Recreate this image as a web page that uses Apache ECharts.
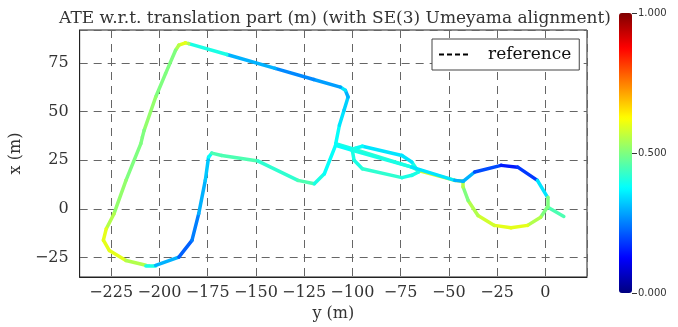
<!DOCTYPE html>
<html>
<head>
<meta charset="utf-8">
<script src="https://cdn.jsdelivr.net/npm/echarts@6/dist/echarts.min.js"></script>
<style>
html, body { margin: 0; padding: 0; background: #fff; }
#main { width: 678px; height: 327px; }
</style>
</head>
<body>
<div id="main"></div>
<script>
// trajectory: y (m), x (m), error (0..1)
var trajY = [9.6, 1.1, -2.4, -9.2, -17.8, -26.4, -34.9, -40.0, -42.6, -42.6,
    -46.9, -65.7, -69.2, -100.0, -108.6,
    -106.7, -104.3, -102.2, -103.6, -106.2, -120.0, -140.0, -165.0,
    -184.8, -186.5, -189.9, -191.6,
    -196.8, -201.9, -207.9, -208.8, -209.6, -217.3, -223.5, -227.5, -229.0, -225.9,
    -217.3, -207.0, -201.9, -189.9, -183.1, -179.6, -176.2, -174.5, -172.8,
    -167.7, -148.8, -128.2, -119.7, -114.5, -108.7,
    -100.0, -99.1, -94.8, -74.3, -69.2, -65.7,
    -69.2, -74.3, -94.8, -98.4, -100.0,
    -69.2, -46.9, -42.6, -36.6, -22.9, -14.3, -4.1, 1.1, 1.1];
var trajX = [-3.8, 1.0, -4.2, -8.4, -9.6, -8.4, -3.3, 4.4, 11.3, 14.2,
    14.7, 19.8, 21.5, 31.0, 33.6,
    43.0, 50.7, 57.5, 60.9, 62.6, 66.5, 72.2, 79.3,
    84.9, 85.3, 84.1, 81.5,
    69.5, 57.5, 40.4, 36.9, 33.6, 14.7, -2.4, -10.1, -16.0, -21.3,
    -26.4, -28.9, -28.9, -24.7, -16.1, -2.4, 14.7, 26.7, 28.7,
    27.5, 24.6, 14.7, 13.0, 18.1, 32.7,
    30.1, 25.0, 20.7, 16.1, 17.3, 19.0,
    24.1, 27.5, 32.2, 31.2, 30.1,
    21.5, 14.7, 14.2, 19.0, 22.4, 21.5, 14.7, 6.1, 1.0];
var trajErr = [0.45, 0.5, 0.55, 0.6, 0.6, 0.58, 0.55, 0.5, 0.55, 0.6,
    0.58, 0.45, 0.42, 0.4, 0.38,
    0.35, 0.33, 0.3, 0.35, 0.28, 0.26, 0.3, 0.4,
    0.55, 0.6, 0.55, 0.5,
    0.5, 0.52, 0.5, 0.5, 0.5, 0.52, 0.55, 0.6, 0.6, 0.6,
    0.55, 0.4, 0.3, 0.22, 0.25, 0.3, 0.32, 0.38, 0.45,
    0.45, 0.42, 0.45, 0.4, 0.38, 0.38,
    0.4, 0.4, 0.42, 0.4, 0.4, 0.4,
    0.35, 0.35, 0.38, 0.4, 0.4,
    0.35, 0.3, 0.3, 0.2, 0.15, 0.18, 0.35, 0.5, 0.5];
var barTicks = [0, 0.5, 1];

var jet = ['#00007f', '#0000ff', '#007fff', '#00ffff', '#7fff7f', '#ffff00', '#ff7f00', '#ff0000', '#7f0000'];
var serif = 'DejaVu Serif';
var minus = function (v) {
    v = Number(v);
    return v < 0 ? '\u2212' + Math.abs(v) : String(v);
};

// reference path and coloured segments, one per pair of neighbouring points
var refPts = [];
var segs = [];
for (var i = 0; i < trajY.length; i++) {
    refPts.push([trajY[i], trajX[i]]);
    if (i + 1 < trajY.length) {
        segs.push({
            coords: [[trajY[i], trajX[i]], [trajY[i + 1], trajX[i + 1]]],
            value: trajErr[i]
        });
    }
}

var myChart = echarts.init(document.getElementById('main'));
var option = {
    backgroundColor: '#fff',
    animation: false,
    title: {
        text: 'ATE w.r.t. translation part (m) (with SE(3) Umeyama alignment)',
        left: 330,
        textAlign: 'center',
        top: 5,
        textStyle: { fontFamily: serif, fontSize: 17, fontWeight: 'normal', color: '#333' }
    },
    legend: {
        data: ['reference'],
        left: 432,
        top: 39,
        padding: [7, 8, 7, 6],
        itemWidth: 32,
        itemHeight: 16,
        backgroundColor: '#fff',
        borderColor: '#444',
        borderWidth: 1,
        borderRadius: 0,
        itemStyle: { opacity: 0 },
        textStyle: { fontFamily: serif, fontSize: 17, color: '#111', padding: [0, 0, 0, 12] }
    },
    grid: [
        { left: 75, right: 91, top: 30, bottom: 50, show: true, borderColor: '#222', borderWidth: 1 },
        { left: 632, top: 13, width: 1, height: 280 }
    ],
    xAxis: [{
        type: 'value',
        min: -241.3,
        max: 21.6,
        minInterval: 25,
        maxInterval: 25,
        name: 'y (m)',
        nameLocation: 'middle',
        nameGap: 27,
        nameTextStyle: { fontFamily: serif, fontSize: 16, color: '#333' },
        axisLine: { show: true, onZero: false, lineStyle: { color: '#222' } },
        axisTick: { show: false },
        axisLabel: { fontFamily: serif, fontSize: 16, color: '#333', margin: 8,
            showMinLabel: false, showMaxLabel: false, formatter: minus },
        splitLine: { show: true, lineStyle: { color: '#666', type: [8, 6], width: 1 } }
    }, {
        gridIndex: 1, type: 'value', show: false
    }],
    yAxis: [{
        type: 'value',
        min: -34.9,
        max: 91.9,
        minInterval: 25,
        maxInterval: 25,
        name: 'x (m)',
        nameLocation: 'middle',
        nameGap: 50,
        nameTextStyle: { fontFamily: serif, fontSize: 16, color: '#333' },
        axisLine: { show: true, onZero: false, lineStyle: { color: '#222' } },
        axisTick: { show: false },
        axisLabel: { fontFamily: serif, fontSize: 16, color: '#333', margin: 11,
            showMinLabel: false, showMaxLabel: false, formatter: minus },
        splitLine: { show: true, lineStyle: { color: '#666', type: [8, 6], width: 1 } }
    }, {
        gridIndex: 1,
        type: 'value',
        min: barTicks[0],
        max: barTicks[barTicks.length - 1],
        interval: barTicks[1] - barTicks[0],
        position: 'right',
        axisLine: { show: false },
        axisTick: { show: true, length: 5, lineStyle: { color: '#333' } },
        axisLabel: { fontFamily: 'DejaVu Sans', fontSize: 10, color: '#333', margin: 5,
            formatter: function (v) { return Number(v).toFixed(3); } },
        splitLine: { show: false }
    }],
    visualMap: {
        type: 'continuous',
        seriesIndex: 1,
        min: 0,
        max: 1,
        left: 619,
        top: 13,
        padding: 0,
        itemWidth: 13,
        itemHeight: 280,
        text: null,
        showLabel: false,
        calculable: false,
        realtime: false,
        inRange: { color: jet }
    },
    series: [
        {
            name: 'reference',
            type: 'line',
            data: refPts,
            symbol: 'none',
            z: 2,
            lineStyle: { color: '#000', width: 1, type: [5, 3] },
            itemStyle: { color: '#000' }
        },
        {
            name: 'error',
            type: 'lines',
            coordinateSystem: 'cartesian2d',
            polyline: false,
            data: segs,
            z: 3,
            lineStyle: { width: 3.5, opacity: 1, cap: 'round', join: 'round' }
        }
    ]
};
myChart.setOption(option);
</script>
</body>
</html>
